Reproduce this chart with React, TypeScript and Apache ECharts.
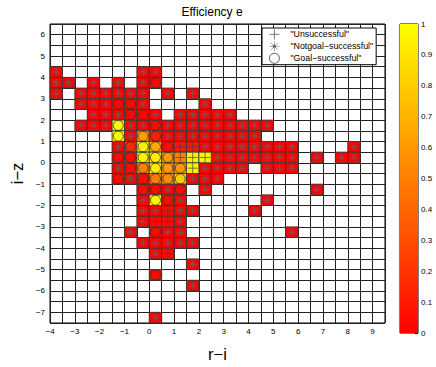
import React, { useEffect, useRef } from 'react';
import * as echarts from 'echarts';

// Axis ranges (cells are 0.5 x 0.5, values given at cell centres)
const xMin = -4;
const xMax = 9.5;
const yMin = -7.5;
const yMax = 6.5;
const cellStep = 0.5;

// [r-i centre, i-z centre, efficiency e]
const notgoalCells: [number, number, number][] = [
  [-3.75, 4.25, 0], [-0.25, 4.25, 0], [0.25, 4.25, 0],
  [-3.75, 3.75, 0], [-3.25, 3.75, 0], [-2.25, 3.75, 0], [-1.25, 3.75, 0], [-0.25, 3.75, 0],
  [-3.75, 3.25, 0], [-2.75, 3.25, 0], [-2.25, 3.25, 0], [-1.75, 3.25, 0], [-1.25, 3.25, 0], [-0.75, 3.25, 0], [-0.25, 3.25, 0], [0.75, 3.25, 0], [1.75, 3.25, 0],
  [-2.75, 2.75, 0], [-2.25, 2.75, 0], [-1.75, 2.75, 0], [-0.25, 2.75, 0], [2.25, 2.75, 0],
  [-2.25, 2.25, 0], [-1.75, 2.25, 0], [-1.25, 2.25, 0], [0.25, 2.25, 0], [1.25, 2.25, 0], [1.75, 2.25, 0], [2.25, 2.25, 0], [2.75, 2.25, 0], [3.25, 2.25, 0],
  [-2.75, 1.75, 0], [-2.25, 1.75, 0], [-1.75, 1.75, 0], [-0.75, 1.75, 0], [-0.25, 1.75, 0], [0.75, 1.75, 0], [1.25, 1.75, 0], [1.75, 1.75, 0], [2.25, 1.75, 0], [2.75, 1.75, 0], [3.25, 1.75, 0], [3.75, 1.75, 0], [4.25, 1.75, 0], [4.75, 1.75, 0],
  [-0.75, 1.25, 0], [0.75, 1.25, 0], [1.25, 1.25, 0], [1.75, 1.25, 0], [2.25, 1.25, 0], [2.75, 1.25, 0], [3.25, 1.25, 0], [3.75, 1.25, 0], [4.25, 1.25, 0],
  [-1.25, 0.75, 0], [2.25, 0.75, 0], [2.75, 0.75, 0], [3.25, 0.75, 0], [3.75, 0.75, 0], [4.25, 0.75, 0], [4.75, 0.75, 0], [5.25, 0.75, 0], [5.75, 0.75, 0], [8.25, 0.75, 0],
  [2.75, 0.25, 0], [3.25, 0.25, 0], [3.75, 0.25, 0], [4.25, 0.25, 0], [4.75, 0.25, 0], [5.25, 0.25, 0], [5.75, 0.25, 0], [6.75, 0.25, 0], [7.75, 0.25, 0], [8.25, 0.25, 0],
  [-1.25, -0.25, 0], [2.25, -0.25, 0], [2.75, -0.25, 0], [3.25, -0.25, 0], [3.75, -0.25, 0], [4.75, -0.25, 0], [5.25, -0.25, 0], [5.75, -0.25, 0],
  [-0.75, -0.75, 0], [1.75, -0.75, 0], [2.25, -0.75, 0], [2.75, -0.75, 0],
  [0.75, -1.25, 0], [2.25, -1.25, 0], [6.75, -1.25, 0],
  [-0.25, -1.75, 0], [1.25, -1.75, 0], [4.75, -1.75, 0],
  [-0.25, -2.25, 0], [0.25, -2.25, 0], [1.25, -2.25, 0], [1.75, -2.25, 0], [4.25, -2.25, 0],
  [-0.25, -2.75, 0], [1.25, -2.75, 0],
  [-0.75, -3.25, 0], [0.75, -3.25, 0], [1.25, -3.25, 0], [5.75, -3.25, 0],
  [-0.25, -3.75, 0], [0.25, -3.75, 0], [0.75, -3.75, 0], [1.25, -3.75, 0], [1.75, -3.75, 0],
  [0.25, -4.25, 0],
  [1.75, -4.75, 0],
  [1.75, -5.75, 0],
  [0.25, -7.25, 0],
];

const goalCells: [number, number, number][] = [
  [0.25, 3.75, 0.02],
  [-1.25, 2.75, 0.02], [-0.75, 2.75, 0.02],
  [-0.75, 2.25, 0.02], [-0.25, 2.25, 0.02],
  [-1.25, 1.75, 0.97], [0.25, 1.75, 0.03],
  [-1.25, 1.25, 0.96], [-0.25, 1.25, 0.62], [0.25, 1.25, 0.12],
  [-0.75, 0.75, 0.15], [-0.25, 0.75, 0.95], [0.25, 0.75, 0.65], [0.75, 0.75, 0.05],
  [-1.25, 0.25, 0.03], [-0.75, 0.25, 0.03], [-0.25, 0.25, 0.95], [0.25, 0.25, 0.92], [0.75, 0.25, 0.6],
  [-0.75, -0.25, 0.05], [-0.25, -0.25, 0.5], [0.25, -0.25, 0.92], [0.75, -0.25, 0.62], [1.25, -0.25, 0.6],
  [-1.25, -0.75, 0.03], [-0.25, -0.75, 0.04], [0.25, -0.75, 0.5], [0.75, -0.75, 0.55], [1.25, -0.75, 0.8],
  [-0.25, -1.25, 0.03], [0.25, -1.25, 0.03], [1.25, -1.25, 0.03],
  [0.25, -1.75, 0.97], [0.75, -1.75, 0.03],
  [0.25, -3.25, 0.03],
  [0.25, -5.25, 0.03],
];

const unsuccessfulCells: [number, number, number][] = [
  [1.25, 0.75, 0.08], [1.75, 0.75, 0.08],
  [1.25, 0.25, 0.5], [1.75, 0.25, 0.95], [2.25, 0.25, 0.95],
  [1.75, -0.25, 0.95],
  [0.75, -2.25, 0.03],
  [0.25, -2.75, 0.03], [0.75, -2.75, 0.03],
  [0.75, -4.25, 0.03],
];

const colorbarTicks = [0, 0.1, 0.2, 0.3, 0.4, 0.5, 0.6, 0.7, 0.8, 0.9, 1];

const seriesNames = ['"Unsuccessful"', '"Notgoal\u2212successful"', '"Goal\u2212successful"'];

const FONT = 'Liberation Sans, Arial, Helvetica, sans-serif';
const PLUS = 'path://M5,0L5,10M0,5L10,5';
const STAR = 'path://M0,5L10,5M5,0L5,10M1.5,1.5L8.5,8.5M1.5,8.5L8.5,1.5M4,4L6,4L6,6L4,6Z';

const plusStyle = { color: 'transparent', borderColor: '#444', borderWidth: 0.7, opacity: 1 };
const starStyle = { color: '#000', borderColor: '#666', borderWidth: 0.6, opacity: 1 };
const circleStyle = { color: 'transparent', borderColor: '#333', borderWidth: 0.8, opacity: 1 };

const fmt = (v: number) => {
  if (!Number.isInteger(v)) return '';
  return v < 0 ? '\u2212' + Math.abs(v) : String(v);
};

export default function App() {
  const ref = useRef<HTMLDivElement>(null);

  useEffect(() => {
    const chart = echarts.init(ref.current!, null, { renderer: 'svg' });
    const allCells = [...notgoalCells, ...goalCells, ...unsuccessfulCells];
    const half = cellStep / 2;

    chart.setOption({
      animation: false,
      backgroundColor: '#fff',
      textStyle: { fontFamily: FONT },
      title: {
        text: 'Efficiency e',
        left: 212,
        top: 6,
        padding: 0,
        textAlign: 'center',
        textStyle: { fontSize: 12, fontWeight: 'normal', color: '#000', fontFamily: FONT },
      },
      legend: {
        data: [
          { name: seriesNames[0], icon: PLUS, itemStyle: plusStyle },
          { name: seriesNames[1], icon: STAR, itemStyle: starStyle },
          { name: seriesNames[2], icon: 'circle', itemStyle: circleStyle },
        ],
        orient: 'vertical',
        left: 262,
        top: 28,
        padding: [1, 3, 1, 7],
        itemWidth: 22,
        itemHeight: 10,
        itemGap: 1.3,
        backgroundColor: '#fff',
        borderColor: '#000',
        borderWidth: 1,
        textStyle: { fontSize: 8.8, color: '#000', fontFamily: FONT },
        selectedMode: false,
      },
      visualMap: {
        show: false,
        type: 'continuous',
        min: 0,
        max: 1,
        dimension: 2,
        seriesIndex: 0,
        inRange: { color: ['#ff0000', '#ffff00'] },
      },
      grid: [
        { left: 38.5, right: 51, top: 24, bottom: 34, show: true, borderColor: '#000', borderWidth: 1, backgroundColor: '#fff' },
        { left: 400, width: 18, top: 24, bottom: 34, show: true, borderColor: '#000', borderWidth: 1 },
      ],
      xAxis: [
        {
          type: 'value', gridIndex: 0, min: xMin, max: xMax, interval: cellStep,
          name: 'r\u2212i', nameLocation: 'middle', nameGap: 22,
          nameTextStyle: { fontSize: 16.5, color: '#000', fontFamily: FONT },
          axisLine: { show: false }, axisTick: { show: false },
          axisLabel: { formatter: fmt, fontSize: 8, color: '#000', margin: 4, fontFamily: FONT },
          splitLine: { show: true, lineStyle: { color: '#222', width: 1 } },
        },
        { type: 'category', gridIndex: 1, data: [''], show: false, boundaryGap: true },
      ],
      yAxis: [
        {
          type: 'value', gridIndex: 0, min: yMin, max: yMax, interval: cellStep,
          name: 'i\u2212z', nameLocation: 'middle', nameGap: 21,
          nameTextStyle: { fontSize: 16.5, color: '#000', fontFamily: FONT },
          axisLine: { show: false }, axisTick: { show: false },
          axisLabel: { formatter: fmt, fontSize: 8, color: '#000', margin: 5, fontFamily: FONT },
          splitLine: { show: true, lineStyle: { color: '#222', width: 1 } },
        },
        {
          type: 'value', gridIndex: 1, position: 'right', min: colorbarTicks[0], max: colorbarTicks[colorbarTicks.length - 1], interval: 0.1,
          axisLine: { show: false },
          axisTick: { show: true, inside: true, length: 3, lineStyle: { color: '#000' } },
          axisLabel: { fontSize: 8, color: '#000', margin: 3, fontFamily: FONT, formatter: (v: number) => String(Math.round(v * 10) / 10) },
          splitLine: { show: false },
        },
      ],
      series: [
        {
          type: 'custom',
          xAxisIndex: 0,
          yAxisIndex: 0,
          data: allCells,
          encode: { x: 0, y: 1 },
          silent: true,
          renderItem: (_params: any, api: any) => {
            const x = api.value(0);
            const y = api.value(1);
            const p0 = api.coord([x - half, y + half]);
            const p1 = api.coord([x + half, y - half]);
            return {
              type: 'rect',
              shape: { x: p0[0], y: p0[1], width: p1[0] - p0[0], height: p1[1] - p0[1] },
              style: { fill: api.visual('color'), stroke: '#3a3a3a', lineWidth: 0.9 },
            };
          },
        },
        {
          name: seriesNames[0],
          type: 'scatter',
          xAxisIndex: 0, yAxisIndex: 0,
          data: unsuccessfulCells.map((d) => [d[0], d[1]]),
          symbol: PLUS,
          symbolSize: 10,
          symbolKeepAspect: true,
          silent: true,
          itemStyle: plusStyle,
        },
        {
          name: seriesNames[1],
          type: 'scatter',
          xAxisIndex: 0, yAxisIndex: 0,
          data: notgoalCells.map((d) => [d[0], d[1]]),
          symbol: STAR,
          symbolSize: 8,
          symbolKeepAspect: true,
          silent: true,
          itemStyle: starStyle,
        },
        {
          name: seriesNames[2],
          type: 'scatter',
          xAxisIndex: 0, yAxisIndex: 0,
          data: goalCells.map((d) => [d[0], d[1]]),
          symbol: 'circle',
          symbolSize: 10,
          silent: true,
          itemStyle: circleStyle,
        },
        {
          type: 'bar',
          xAxisIndex: 1,
          yAxisIndex: 1,
          data: [colorbarTicks[colorbarTicks.length - 1]],
          barWidth: '100%',
          silent: true,
          itemStyle: {
            color: {
              type: 'linear', x: 0, y: 1, x2: 0, y2: 0,
              colorStops: [
                { offset: 0, color: '#ff0000' },
                { offset: 1, color: '#ffff00' },
              ],
            },
          },
        },
      ],
    });

    return () => chart.dispose();
  }, []);

  return (
    <div
      ref={ref}
      style={{ position: 'fixed', left: 0, top: 0, width: 436, height: 367, background: '#fff' }}
    />
  );
}
